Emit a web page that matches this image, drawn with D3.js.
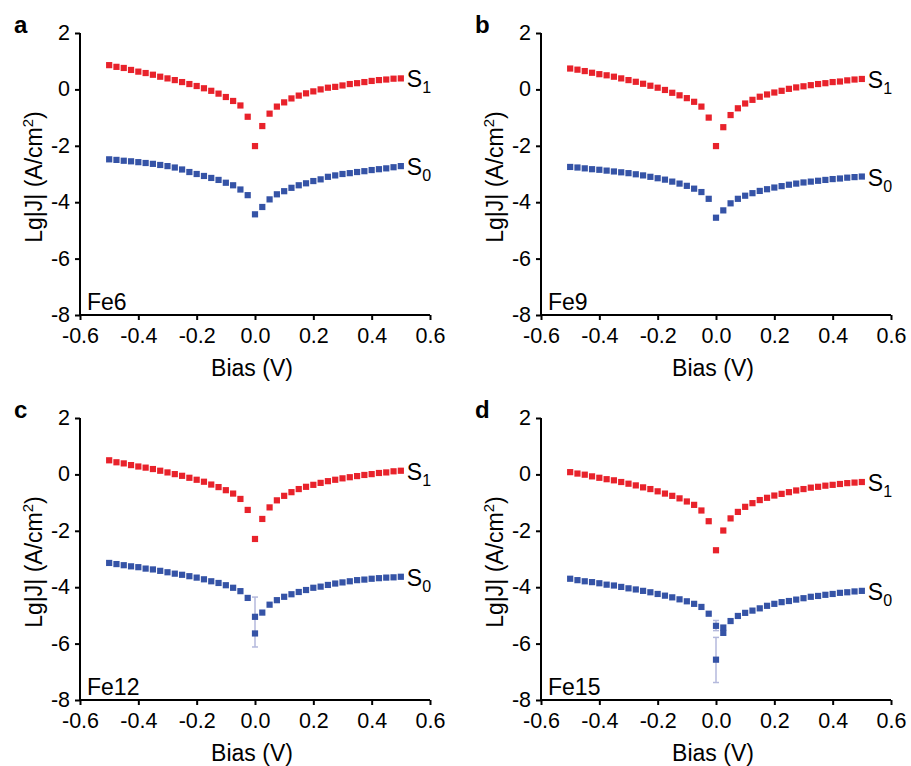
<!DOCTYPE html>
<html>
<head>
<meta charset="utf-8">
<script src="https://cdn.jsdelivr.net/npm/d3@7/dist/d3.min.js"></script>
<style>
  html, body { margin: 0; padding: 0; background: #fff; }
  svg { display: block; }
  text { font-family: "Liberation Sans", Arial, sans-serif; fill: #000; }
</style>
</head>
<body>
<svg id="chart" width="911" height="766"></svg>
<script>
// ---------- DATA ----------
const bias = [-0.5, -0.475, -0.45, -0.425, -0.4, -0.375, -0.35, -0.325, -0.3, -0.275,
  -0.25, -0.225, -0.2, -0.175, -0.15, -0.125, -0.1, -0.075, -0.05, -0.025, 0,
  0.025, 0.05, 0.075, 0.1, 0.125, 0.15, 0.175, 0.2, 0.225, 0.25, 0.275, 0.3,
  0.325, 0.35, 0.375, 0.4, 0.425, 0.45, 0.475, 0.5];

const xTicks = [-0.6, -0.4, -0.2, 0.0, 0.2, 0.4, 0.6];
const yTicks = [-8, -6, -4, -2, 0, 2];

const panelLetters = ["a", "b", "c", "d"];
const sampleNames = ["Fe6", "Fe9", "Fe12", "Fe15"];
const seriesNames = ["S1", "S0"];

const s1Fe6 = [0.86, 0.80, 0.76, 0.69, 0.63, 0.58, 0.52, 0.45, 0.39, 0.33, 0.26, 0.19, 0.12, 0.04, -0.05, -0.15, -0.27, -0.41, -0.57, -0.97,
  -2.01, -1.30, -0.86, -0.61, -0.46, -0.32, -0.22, -0.14, -0.07, 0.0, 0.06, 0.09, 0.14, 0.19, 0.22, 0.26, 0.30, 0.33, 0.35, 0.38, 0.39];
const s0Fe6 = [-2.48, -2.50, -2.53, -2.55, -2.58, -2.61, -2.64, -2.68, -2.72, -2.77, -2.84, -2.93, -3.00, -3.07, -3.14, -3.21, -3.31, -3.40, -3.55, -3.75,
  -4.43, -4.17, -3.90, -3.72, -3.61, -3.49, -3.40, -3.33, -3.25, -3.19, -3.10, -3.05, -3.00, -2.97, -2.93, -2.90, -2.86, -2.83, -2.80, -2.76, -2.72];

const s1Fe9 = [0.74, 0.70, 0.65, 0.59, 0.54, 0.50, 0.45, 0.39, 0.33, 0.27, 0.20, 0.13, 0.06, -0.02, -0.12, -0.21, -0.31, -0.44, -0.61, -1.00,
  -2.01, -1.34, -0.91, -0.67, -0.50, -0.37, -0.26, -0.18, -0.11, -0.05, 0.02, 0.07, 0.11, 0.15, 0.19, 0.22, 0.26, 0.28, 0.32, 0.35, 0.37];
const s0Fe9 = [-2.75, -2.77, -2.80, -2.83, -2.85, -2.88, -2.91, -2.94, -2.97, -3.01, -3.05, -3.10, -3.15, -3.20, -3.27, -3.34, -3.42, -3.52, -3.64, -3.88,
  -4.55, -4.29, -4.04, -3.88, -3.77, -3.68, -3.60, -3.54, -3.48, -3.43, -3.38, -3.34, -3.30, -3.27, -3.24, -3.21, -3.18, -3.16, -3.13, -3.11, -3.09];

const s1Fe12 = [0.50, 0.43, 0.39, 0.33, 0.28, 0.24, 0.19, 0.13, 0.07, 0.01, -0.05, -0.12, -0.19, -0.26, -0.36, -0.45, -0.56, -0.68, -0.87, -1.26,
  -2.29, -1.58, -1.17, -0.92, -0.76, -0.63, -0.52, -0.44, -0.37, -0.30, -0.24, -0.19, -0.14, -0.10, -0.06, -0.02, 0.01, 0.05, 0.07, 0.11, 0.13];
const s0Fe12 = [-3.14, -3.18, -3.22, -3.26, -3.29, -3.34, -3.37, -3.42, -3.47, -3.52, -3.56, -3.61, -3.66, -3.72, -3.79, -3.85, -3.93, -4.02, -4.14, -4.38,
  -5.05, -4.90, -4.62, -4.46, -4.34, -4.25, -4.17, -4.10, -4.02, -3.98, -3.92, -3.87, -3.83, -3.79, -3.75, -3.73, -3.70, -3.68, -3.66, -3.65, -3.63];

const s1Fe15 = [0.08, 0.03, -0.01, -0.07, -0.12, -0.17, -0.21, -0.27, -0.33, -0.39, -0.46, -0.52, -0.60, -0.68, -0.76, -0.85, -0.96, -1.08, -1.28, -1.66,
  -2.69, -1.99, -1.56, -1.33, -1.15, -1.02, -0.91, -0.83, -0.75, -0.69, -0.63, -0.57, -0.52, -0.47, -0.44, -0.40, -0.37, -0.34, -0.31, -0.29, -0.27];
const s0Fe15 = [-3.70, -3.75, -3.79, -3.82, -3.86, -3.91, -3.94, -3.99, -4.04, -4.08, -4.13, -4.18, -4.24, -4.30, -4.36, -4.43, -4.50, -4.59, -4.70, -4.94,
  -5.37, -5.43, -5.20, -5.02, -4.91, -4.83, -4.75, -4.66, -4.59, -4.53, -4.49, -4.44, -4.39, -4.34, -4.31, -4.27, -4.24, -4.20, -4.18, -4.15, -4.13];

// repeated measurements near zero bias: [bias, value]
const extraS0Fe6 = [];
const extraS0Fe9 = [];
const extraS0Fe12 = [[0, -5.64]];
const extraS0Fe15 = [[0, -6.57], [0.025, -5.62]];

// error bars: [bias, low, high]
const errFe6 = [];
const errFe9 = [];
const errFe12 = [[0, -6.12, -4.35]];
const errFe15 = [[0, -5.54, -5.18], [0, -7.38, -5.78]];

// ---------- DRAW ----------
const svg = d3.select("#chart");
const RED = "#e8222b";
const BLUE = "#3553a6";
const ERR = "#b4b9dc";
const FONT = "'Liberation Sans', Arial, sans-serif";

const panels = [
  { letter: panelLetters[0], name: sampleNames[0], s1: s1Fe6, s0: s0Fe6, extra: extraS0Fe6, err: errFe6, left: 80, top: 33 },
  { letter: panelLetters[1], name: sampleNames[1], s1: s1Fe9, s0: s0Fe9, extra: extraS0Fe9, err: errFe9, left: 541, top: 33 },
  { letter: panelLetters[2], name: sampleNames[2], s1: s1Fe12, s0: s0Fe12, extra: extraS0Fe12, err: errFe12, left: 80, top: 418 },
  { letter: panelLetters[3], name: sampleNames[3], s1: s1Fe15, s0: s0Fe15, extra: extraS0Fe15, err: errFe15, left: 541, top: 418 }
];

const W = 350, H = 282, M = 6.2;

panels.forEach(p => {
  const g = svg.append("g").attr("transform", `translate(${p.left},${p.top})`);
  const x = d3.scaleLinear().domain([-0.6, 0.6]).range([0, W]);
  const y = d3.scaleLinear().domain([-8, 2]).range([H, 0]);

  // axes
  const xAxis = d3.axisBottom(x).tickValues(xTicks).tickSize(5).tickPadding(8)
    .tickFormat(d => d3.format(".1f")(d).replace("\u2212", "-"));
  const yAxis = d3.axisLeft(y).tickValues(yTicks).tickSize(5).tickPadding(5)
    .tickFormat(d => String(d).replace("\u2212", "-"));

  const gx = g.append("g").attr("transform", `translate(0,${H})`).call(xAxis);
  const gy = g.append("g").call(yAxis);
  [gx, gy].forEach(a => {
    a.select(".domain").attr("stroke", "#000").attr("stroke-width", 2);
    a.selectAll(".tick line").attr("stroke", "#000").attr("stroke-width", 2);
    a.selectAll(".tick text").attr("font-size", 21.5).attr("fill", "#000")
      .attr("font-family", FONT);
  });
  gy.selectAll(".tick text").attr("dy", "0.3em");
  gx.select(".domain").attr("d", `M0,0H${W}`);
  gy.select(".domain").attr("d", `M0,0V${H}`);

  // error bars
  const eg = g.append("g");
  p.err.forEach(e => {
    const cx = x(e[0]);
    eg.append("line").attr("x1", cx).attr("x2", cx).attr("y1", y(e[1])).attr("y2", y(e[2]))
      .attr("stroke", ERR).attr("stroke-width", 1.5);
    [e[1], e[2]].forEach(v => eg.append("line").attr("x1", cx - 3).attr("x2", cx + 3)
      .attr("y1", y(v)).attr("y2", y(v)).attr("stroke", ERR).attr("stroke-width", 1.5));
  });

  // markers
  const drawSeries = (vals, color) => {
    g.append("g").selectAll("rect").data(bias.map((b, i) => [b, vals[i]])).join("rect")
      .attr("x", d => x(d[0]) - M / 2).attr("y", d => y(d[1]) - M / 2)
      .attr("width", M).attr("height", M).attr("fill", color);
  };
  drawSeries(p.s1, RED);
  drawSeries(p.s0, BLUE);
  g.append("g").selectAll("rect").data(p.extra).join("rect")
    .attr("x", d => x(d[0]) - M / 2).attr("y", d => y(d[1]) - M / 2)
    .attr("width", M).attr("height", M).attr("fill", BLUE);

  // series labels
  [[p.s1, seriesNames[0]], [p.s0, seriesNames[1]]].forEach(([vals, nm]) => {
    const t = g.append("text").attr("x", x(0.5) + 6).attr("y", y(vals[vals.length - 1]) + 9)
      .attr("font-size", 23);
    t.append("tspan").text(nm[0]);
    t.append("tspan").attr("dy", 6).attr("font-size", 16).text(nm.slice(1));
  });

  // sample name
  g.append("text").attr("x", 7).attr("y", H - 5).attr("font-size", 23).text(p.name);

  // axis titles
  g.append("text").attr("x", W / 2 - 3).attr("y", H + 61).attr("text-anchor", "middle")
    .attr("font-size", 23).text("Bias (V)");
  const yt = g.append("text").attr("transform", `translate(-38,${H / 2 + 3}) rotate(-90)`)
    .attr("text-anchor", "middle").attr("font-size", 23);
  yt.append("tspan").text("Lg|J| (A/cm");
  yt.append("tspan").attr("dy", -9).attr("font-size", 15).text("2");
  yt.append("tspan").attr("dy", 9).text(")");

  // panel letter
  g.append("text").attr("x", -66).attr("y", 0).attr("font-size", 24).attr("font-weight", "bold")
    .text(p.letter);
});
</script>
</body>
</html>
